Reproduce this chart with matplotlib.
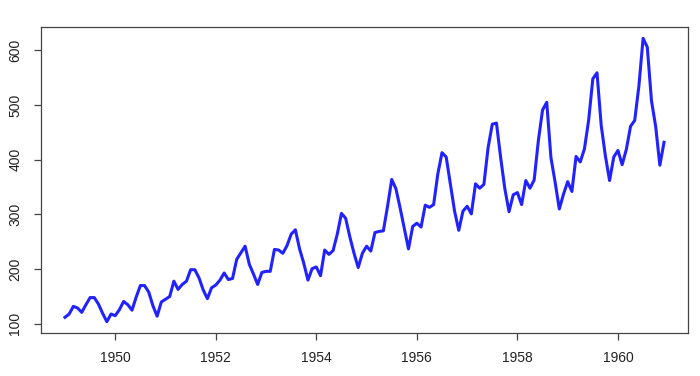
import matplotlib

matplotlib.use("Agg")
import matplotlib.pyplot as plt
import numpy as np

# Monthly airline passengers (thousands), Jan 1949 - Dec 1960
years = list(range(1949, 1961))
passengers = [
    112, 118, 132, 129, 121, 135, 148, 148, 136, 119, 104, 118,
    115, 126, 141, 135, 125, 149, 170, 170, 158, 133, 114, 140,
    145, 150, 178, 163, 172, 178, 199, 199, 184, 162, 146, 166,
    171, 180, 193, 181, 183, 218, 230, 242, 209, 191, 172, 194,
    196, 196, 236, 235, 229, 243, 264, 272, 237, 211, 180, 201,
    204, 188, 235, 227, 234, 264, 302, 293, 259, 229, 203, 229,
    242, 233, 267, 269, 270, 315, 364, 347, 312, 274, 237, 278,
    284, 277, 317, 313, 318, 374, 413, 405, 355, 306, 271, 306,
    315, 301, 356, 348, 355, 422, 465, 467, 404, 347, 305, 336,
    340, 318, 362, 348, 363, 435, 491, 505, 404, 359, 310, 337,
    360, 342, 406, 396, 420, 472, 548, 559, 463, 407, 362, 405,
    417, 391, 419, 461, 472, 535, 622, 606, 508, 461, 390, 432,
]
x_ticks = [1950, 1952, 1954, 1956, 1958, 1960]
y_ticks = [100, 200, 300, 400, 500, 600]

plt.rcParams["font.family"] = ["Liberation Sans", "DejaVu Sans"]

t = years[0] + np.arange(len(passengers)) / 12.0
y = np.array(passengers)

fig = plt.figure(figsize=(7.0, 3.76), dpi=100, facecolor="white")
ax = fig.add_axes([41 / 700, 43 / 376, 647 / 700, 306 / 376])

ax.plot(t, y, color="#2222ff", linewidth=2.2, solid_joinstyle="round")

# R-style 4% axis extension
xr = t[-1] - t[0]
yr = y.max() - y.min()
ax.set_xlim(t[0] - 0.04 * xr, t[-1] + 0.04 * xr)
ax.set_ylim(y.min() - 0.04 * yr, y.max() + 0.04 * yr)

ax.set_xticks(x_ticks)
ax.set_yticks(y_ticks)
ax.set_xticklabels([str(v) for v in x_ticks])
ax.set_yticklabels([str(v) for v in y_ticks], rotation=90, va="center")

for s in ax.spines.values():
    s.set_color("#444444")
    s.set_linewidth(0.9)
ax.tick_params(axis="both", direction="out", length=5, width=0.9, color="#444444",
               labelsize=10, labelcolor="#222222")
ax.tick_params(axis="x", pad=8)
ax.tick_params(axis="y", pad=8.5)

fig.savefig("out.png", dpi=100, facecolor="white")
